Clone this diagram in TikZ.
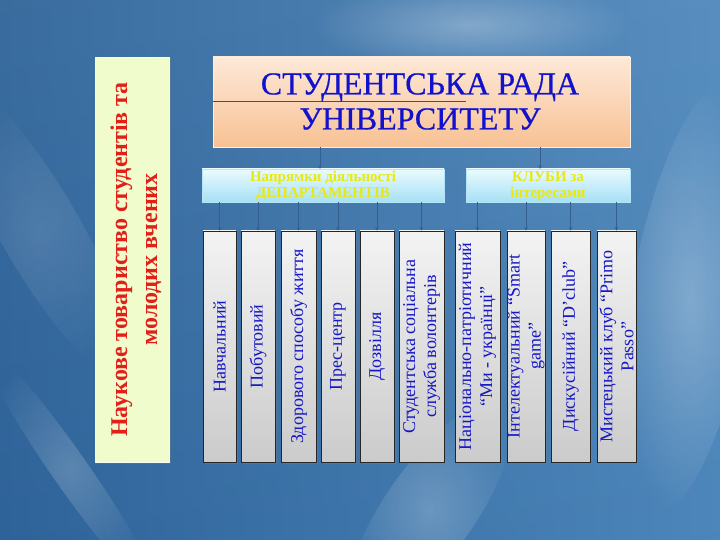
\documentclass[tikz,border=0pt]{standalone}
\usepackage{fontspec}
\setmainfont{Liberation Serif}
\newfontfamily\titlefont[FakeBold=0.6]{Liberation Serif}
\usetikzlibrary{arrows.meta,shadows,fadings,calc}
\tikzfading[name=softglow, inner color=transparent!0, outer color=transparent!100]
\definecolor{bgL}{HTML}{2E6399}
\definecolor{bgR}{HTML}{4E88BC}
\definecolor{titleT}{HTML}{1212CC}
\definecolor{peachTop}{HTML}{FDE9D8}
\definecolor{peachBot}{HTML}{F8C194}
\definecolor{cyanTop}{HTML}{EAFBFF}
\definecolor{cyanBot}{HTML}{A6E0F5}
\definecolor{yelT}{HTML}{E8E812}
\definecolor{boxTop}{HTML}{F3F3F3}
\definecolor{boxBot}{HTML}{CBCBCB}
\definecolor{blueT}{HTML}{1616C4}
\definecolor{greenF}{HTML}{F0FCCB}
\definecolor{redT}{HTML}{E2201A}
\definecolor{connC}{HTML}{33608F}
\begin{document}
\begin{tikzpicture}[x=1pt,y=-1pt,
  botbox/.style={draw=black!85, line width=0.8pt, top color=boxTop, bottom color=boxBot,
    minimum height=231pt, inner sep=0pt,
    drop shadow={opacity=0.35, shadow xshift=1.5pt, shadow yshift=-1.5pt}},
  bottxt/.style={rotate=90, text=blueT, font=\fontsize{18}{21}\selectfont, align=center, inner sep=0pt},
  subbox/.style={draw=white!70!cyan, line width=0.4pt, top color=cyanTop, bottom color=cyanBot,
    minimum height=33pt, inner sep=0pt},
  subtxt/.style={text=yelT, font=\bfseries\fontsize{15}{16}\selectfont, align=center, inner sep=0pt},
  conn/.style={draw=connC, line width=0.9pt, -{Stealth[length=3.5pt,width=3.5pt]}},
  glow/.style={fill=white, path fading=softglow},
]
\useasboundingbox (0,0) rectangle (720,540);
% background
\shade[left color=bgL, right color=bgR] (0,0) rectangle (720,540);
\shade[top color=white, bottom color=bgL, opacity=0.06] (0,0) rectangle (720,540);
\fill[glow, opacity=0.30] (470,25) ellipse [x radius=160, y radius=45];
\fill[glow, opacity=0.28, rotate around={-10:(690,300)}] (690,300) ellipse [x radius=60, y radius=220];
\fill[glow, opacity=0.22, rotate around={55:(430,510)}] (430,510) ellipse [x radius=130, y radius=45];
\fill[glow, opacity=0.20, rotate around={-55:(70,470)}] (70,470) ellipse [x radius=150, y radius=18];
\fill[glow, opacity=0.12, rotate around={-60:(40,230)}] (40,230) ellipse [x radius=170, y radius=40];

% left green box
\node[fill=greenF, draw=greenF!80!black!10, minimum width=74pt, minimum height=405pt, inner sep=0pt,
  drop shadow={opacity=0.3, shadow xshift=1.5pt, shadow yshift=-1.5pt}] (green) at (132,259.5) {};
\node[rotate=90, text=redT, font=\bfseries\fontsize{24}{30}\selectfont, align=center, inner sep=0pt]
  (greentxt) at (136,259.5) {Наукове товариство студентів та\\молодих вчених};

% title
\node[top color=peachTop, bottom color=peachBot, draw=peachTop!70!white, line width=0.5pt,
  minimum width=417pt, minimum height=90pt, inner sep=0pt,
  drop shadow={opacity=0.3, shadow xshift=1.5pt, shadow yshift=-1.5pt}] (title) at (421.5,102) {};
\coordinate (lineA) at (213,101);
\coordinate (lineB) at (466,101);
\draw[black!70, line width=0.6pt] (lineA) -- (lineB);
\node[text=titleT, font=\titlefont\fontsize{32}{35}\selectfont, align=center, inner sep=0pt]
  (titletxt) at (420,101.5) {СТУДЕНТСЬКА РАДА\\УНІВЕРСИТЕТУ};

% sub boxes
\node[subbox, minimum width=242pt] (dep) at (323,185.5) {};
\node[subtxt] (deptxt) at (323,186) {Напрямки діяльності\\ДЕПАРТАМЕНТІВ};
\node[subbox, minimum width=164pt] (clubs) at (548,185.5) {};
\node[subtxt] (clubstxt) at (548,186) {КЛУБИ за\\інтересами};

% bottom boxes
\node[botbox, minimum width=33pt] (b1) at (219.5,346.5) {};
\node[botbox, minimum width=34pt] (b2) at (258,346.5) {};
\node[botbox, minimum width=35pt] (b3) at (298.5,346.5) {};
\node[botbox, minimum width=34pt] (b4) at (338,346.5) {};
\node[botbox, minimum width=34pt] (b5) at (377,346.5) {};
\node[botbox, minimum width=45pt] (b6) at (421.5,346.5) {};
\node[botbox, minimum width=45pt] (b7) at (477.5,346.5) {};
\node[botbox, minimum width=38pt] (b8) at (526,346.5) {};
\node[botbox, minimum width=39pt] (b9) at (570.5,346.5) {};
\node[botbox, minimum width=39pt] (b10) at (616.5,346.5) {};

\node[bottxt] (t1) at (b1.center) {Навчальний};
\node[bottxt] (t2) at (b2.center) {Побутовий};
\node[bottxt] (t3) at (b3.center) {Здорового способу життя};
\node[bottxt] (t4) at (b4.center) {Прес-центр};
\node[bottxt] (t5) at (b5.center) {Дозвілля};
\node[bottxt] (t6) at (b6.center) {Студентська соціальна\\служба волонтерів};
\node[bottxt] (t7) at (b7.center) {Національно-патріотичний\\“Ми - українці”};
\node[bottxt] (t8) at (b8.center) {Інтелектуальний “Smart\\game”};
\node[bottxt] (t9) at (b9.center) {Дискусійний “D’club”};
\node[bottxt] (t10) at (b10.center) {Мистецький клуб “Primo\\Passo”};

% connectors
\draw[conn] ([xshift=-3pt]dep.north |- title.south) -- ([xshift=-3pt]dep.north);
\draw[conn] ([xshift=-8pt]clubs.north |- title.south) -- ([xshift=-8pt]clubs.north);
\foreach \b in {b1,b2,b3,b4,b5,b6}{
  \draw[conn] (\b.north |- dep.south) -- (\b.north);
}
\foreach \b in {b7,b8,b9,b10}{
  \draw[conn] (\b.north |- clubs.south) -- (\b.north);
}
\end{tikzpicture}
\end{document}
